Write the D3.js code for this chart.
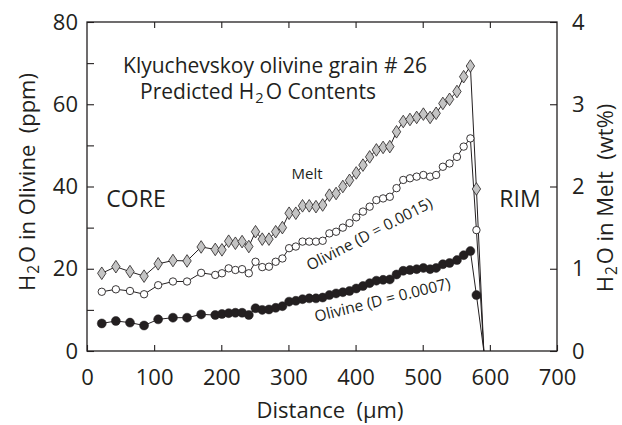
<!DOCTYPE html>
<html>
<head>
<meta charset="utf-8">
<script src="https://cdn.jsdelivr.net/npm/d3@7"></script>
<style>
  html, body { margin: 0; padding: 0; background: #fff; }
  svg { display: block; }
  text { font-family: "Open Sans", "Noto Sans", sans-serif; fill: #231f20; }
</style>
</head>
<body>
<svg id="chart" width="622" height="425"></svg>
<script>
// Distance from core (µm)
const distance = [22,43,64,85,106,128,149,170,191,201,211,221,231,241,251,261,271,281,291,301,311,321,331,341,351,361,371,381,391,401,411,421,431,441,451,461,471,481,491,501,511,520,530,540,551,561,571,580,591];
// H2O in melt (wt%)
const melt = [0.945,1.025,0.965,0.91,1.06,1.10,1.095,1.265,1.235,1.23,1.335,1.31,1.33,1.27,1.45,1.36,1.36,1.45,1.50,1.675,1.675,1.765,1.765,1.755,1.775,1.895,1.915,2.00,2.075,2.165,2.26,2.36,2.445,2.475,2.485,2.665,2.79,2.815,2.84,2.88,2.84,2.89,3.01,3.06,3.155,3.335,3.465,1.97,0];
// H2O in olivine, D = 0.0015 (ppm)
const olivine15 = [14.4,15.0,14.6,13.8,16.0,16.9,16.9,19.0,18.5,18.9,20.1,19.7,19.9,18.9,21.7,20.4,20.5,21.7,22.5,25.0,25.4,26.6,26.6,26.6,26.8,28.6,29.0,30.0,31.1,32.5,33.9,35.1,36.7,37.1,37.5,39.6,41.6,42.0,42.4,42.8,42.4,42.8,44.8,45.6,47.2,49.7,51.7,29.4,0];
// H2O in olivine, D = 0.0007 (ppm)
const olivine07 = [6.7,7.3,6.9,6.2,7.7,8.1,8.1,8.9,8.75,9.0,9.2,9.3,9.3,8.75,10.4,10.0,10.1,10.5,10.9,12.0,12.2,12.6,12.8,12.8,13.0,13.6,14.0,14.3,14.6,15.2,15.8,16.5,17.1,17.3,17.4,18.6,19.5,19.7,19.9,20.2,19.9,20.2,21.1,21.4,22.1,23.3,24.3,13.6,0];

const xTicks = [0,100,200,300,400,500,600,700];
const yLeftTicks = [0,10,20,30,40,50,60,70,80];
const yRightTicks = [0,1,2,3,4];

const svg = d3.select("#chart");
const L = 87, R = 557, T = 22, B = 351;
const x = d3.scaleLinear().domain([0,700]).range([L,R]);
const yL = d3.scaleLinear().domain([0,80]).range([B,T]);
const yR = d3.scaleLinear().domain([0,4]).range([B,T]);
const ink = "#231f20";

// axes
const styleAxis = g => {
  g.select(".domain").remove();
  g.selectAll(".tick line").attr("stroke", ink).attr("stroke-width", 1.1);
  g.selectAll(".tick text").style("font-size", "22px").attr("fill", ink);
};
svg.append("g").attr("transform", `translate(0,${B})`)
  .call(d3.axisBottom(x).tickValues(xTicks).tickSize(-6).tickPadding(18).tickFormat(d3.format("d")))
  .call(styleAxis);
svg.append("g").attr("transform", `translate(0,${T})`)
  .call(d3.axisTop(x).tickValues(xTicks.slice(1,-1)).tickSize(-6).tickFormat(""))
  .call(styleAxis);
svg.append("g").attr("transform", `translate(${L},0)`)
  .call(d3.axisLeft(yL).tickValues(yLeftTicks).tickSize(-7).tickPadding(9).tickFormat(d => d % 20 === 0 ? d : ""))
  .call(styleAxis);
svg.append("g").attr("transform", `translate(${R},0)`)
  .call(d3.axisRight(yR).tickValues(yRightTicks).tickSize(-7).tickPadding(15).tickFormat(d3.format("d")))
  .call(styleAxis);

// frame
svg.append("rect").attr("x", L).attr("y", T).attr("width", R-L).attr("height", B-T)
  .attr("fill", "none").attr("stroke", ink).attr("stroke-width", 1.3);

// lines
const idx = d3.range(distance.length);
const lineMelt = d3.line().x(i => x(distance[i])).y(i => yR(melt[i]));
const line15 = d3.line().x(i => x(distance[i])).y(i => yL(olivine15[i]));
const line07 = d3.line().x(i => x(distance[i])).y(i => yL(olivine07[i]));
[lineMelt, line15, line07].forEach(ln => {
  svg.append("path").attr("d", ln(idx)).attr("fill", "none").attr("stroke", ink).attr("stroke-width", 1);
});

// markers
const shown = arr => idx.filter(i => arr[i] > 0);
svg.append("g").selectAll("path").data(shown(melt)).join("path")
  .attr("transform", i => `translate(${x(distance[i])},${yR(melt[i])})`)
  .attr("d", "M0,-6.3 L4.2,0 L0,6.3 L-4.2,0 Z")
  .attr("fill", "#c4c4c4").attr("stroke", ink).attr("stroke-width", 0.8);
svg.append("g").selectAll("circle").data(shown(olivine15)).join("circle")
  .attr("cx", i => x(distance[i])).attr("cy", i => yL(olivine15[i])).attr("r", 3.7)
  .attr("fill", "#fff").attr("stroke", ink).attr("stroke-width", 0.9);
svg.append("g").selectAll("circle").data(shown(olivine07)).join("circle")
  .attr("cx", i => x(distance[i])).attr("cy", i => yL(olivine07[i])).attr("r", 4.5)
  .attr("fill", ink).attr("stroke", ink).attr("stroke-width", 0.5);

// helper for H2O text
function h2o(t, pre, post, size) {
  t.append("tspan").text(pre + "H");
  t.append("tspan").text("2").style("font-size", (size*0.7) + "px").attr("dy", size*0.2).attr("dx", 1);
  t.append("tspan").text(post).attr("dy", -size*0.2).attr("dx", 2);
}
const NB = "\u00a0";

// titles in plot
svg.append("text").attr("x", 275).attr("y", 73).attr("text-anchor", "middle")
  .style("font-size", "21px").text("Klyuchevskoy olivine grain # 26");
const t2 = svg.append("text").attr("x", 258).attr("y", 99).attr("text-anchor", "middle").style("font-size", "21px");
h2o(t2, "Predicted ", "O Contents", 21);

svg.append("text").attr("x", 136).attr("y", 207).attr("text-anchor", "middle").style("font-size", "23px").text("CORE");
svg.append("text").attr("x", 520).attr("y", 207).attr("text-anchor", "middle").style("font-size", "23px").text("RIM");
svg.append("text").attr("x", 307).attr("y", 179).attr("text-anchor", "middle").style("font-size", "15px").text("Melt");
svg.append("text").attr("transform", "translate(310,271) rotate(-27.5)").style("font-size", "15.5px").text("Olivine (D = 0.0015)");
svg.append("text").attr("transform", "translate(316,322) rotate(-14)").style("font-size", "15.5px").text("Olivine (D = 0.0007)");

// axis titles
svg.append("text").attr("x", 330).attr("y", 418).attr("text-anchor", "middle").style("font-size", "22px").text("Distance" + NB + NB + "(\u03bcm)");
const yl = svg.append("text").attr("transform", "translate(35,182) rotate(-90)").attr("text-anchor", "middle").style("font-size", "22px");
h2o(yl, "", "O in Olivine" + NB + NB + "(ppm)", 22);
const yr = svg.append("text").attr("transform", "translate(613,198) rotate(-90)").attr("text-anchor", "middle").style("font-size", "22px");
h2o(yr, "", "O in Melt" + NB + NB + "(wt%)", 22);
</script>
</body>
</html>
